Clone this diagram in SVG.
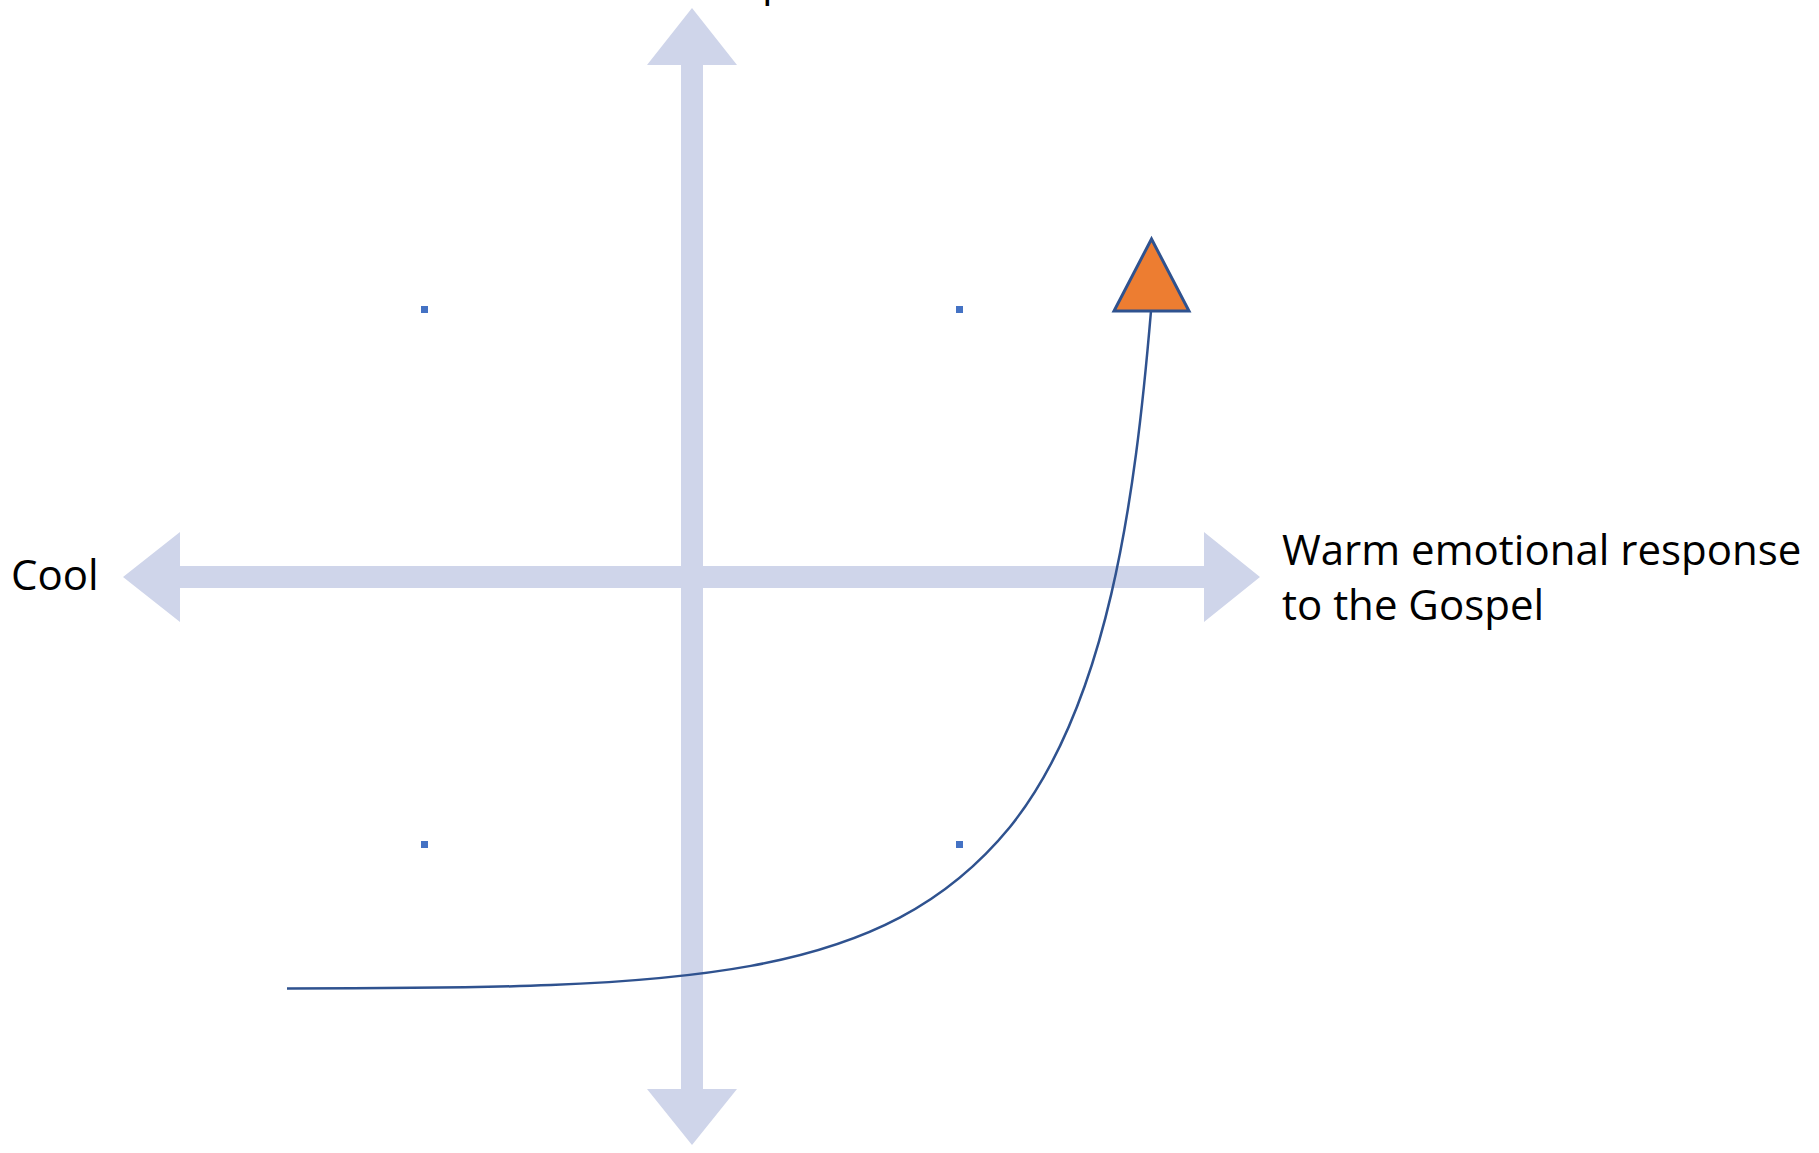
<svg xmlns="http://www.w3.org/2000/svg" width="1819" height="1153" viewBox="0 0 1819 1153">
  <style>
    .axis { fill: #CFD5EA; stroke: none; }
    .dot { fill: #4472C4; }
    .lbl { font-family: "Open Sans", "Liberation Sans", sans-serif; font-size: 42px; fill: #000000; }
    .curve { fill: none; stroke: #2F528F; stroke-width: 2.5; }
    .marker { fill: #ED7D31; stroke: #2F528F; stroke-width: 3; stroke-linejoin: miter; }
  </style>
  <rect x="0" y="0" width="1819" height="1153" fill="#FFFFFF"/>
  <g id="axes">
    <g id="horizontal-axis">
      <polygon class="axis" points="123,577 180,532 180,566 1204,566 1204,532 1260,577 1204,622 1204,588 180,588 180,622"/>
    </g>
    <g id="vertical-axis">
      <polygon class="axis" points="692,8 737,65 703,65 703,1089 737,1089 692,1145 647,1089 681,1089 681,65 647,65"/>
    </g>
  </g>
  <g id="quadrant-dots">
    <rect class="dot" x="421" y="306" width="7" height="7"/>
    <rect class="dot" x="956" y="306" width="7" height="7"/>
    <rect class="dot" x="421" y="841" width="7" height="7"/>
    <rect class="dot" x="956" y="841" width="7" height="7"/>
  </g>
  <g id="labels">
    <g id="label-top"><text class="lbl" x="762" y="-4">p</text></g>
    <g id="label-cool"><text class="lbl" x="11" y="590">Cool</text></g>
    <g id="label-warm">
      <text class="lbl" x="1282" y="565">Warm emotional response</text>
      <text class="lbl" x="1282" y="620">to the Gospel</text>
    </g>
  </g>
  <g id="connectors">
    <path class="curve" d="M287,988.5 C687,988.5 883,982 1010,827 C1108,705 1135,500 1151,311"/>
  </g>
  <g id="end-marker">
    <polygon class="marker" points="1151.5,239 1189,311 1114,311"/>
  </g>
</svg>
